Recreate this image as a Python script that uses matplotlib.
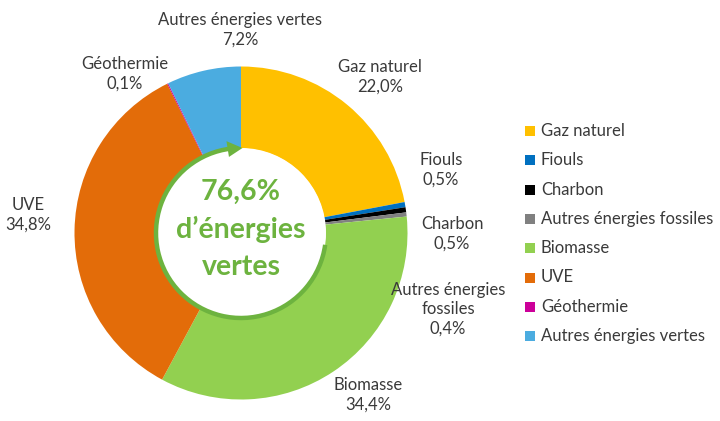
import numpy as np
import matplotlib
matplotlib.use('Agg')
import matplotlib.pyplot as plt
from matplotlib.patches import Arc, Polygon, Circle

plt.rcParams['font.family'] = ['Lato', 'DejaVu Sans']

categories = ['Gaz naturel', 'Fiouls', 'Charbon', 'Autres énergies fossiles',
              'Biomasse', 'UVE', 'Géothermie', 'Autres énergies vertes']
values = [22.0, 0.5, 0.5, 0.4, 34.4, 34.8, 0.1, 7.2]
value_labels = ['22,0%', '0,5%', '0,5%', '0,4%', '34,4%', '34,8%', '0,1%', '7,2%']
colors = ['#FFC000', '#0070C0', '#000000', '#808080',
          '#92D050', '#E36C09', '#CC0099', '#4BACE0']
green_total = '76,6%'

# label text blocks (pixel positions, top-left origin)
label_texts = ['Gaz naturel', 'Fiouls', 'Charbon', 'Autres énergies\nfossiles',
               'Biomasse', 'UVE', 'Géothermie', 'Autres énergies vertes']
label_pos = [(380, 77), (441, 170), (452, 234), (448, 309),
             (368, 395), (28, 215), (125, 74), (240, 30)]

H = 421
fig = plt.figure(figsize=(7.2, 4.21), dpi=100)
ax = fig.add_axes([0, 0, 1, 1])

cx, cy, R = 241, H - 233, 166.5
ax.pie(values, colors=colors, startangle=90, counterclock=False,
       center=(cx, cy), radius=R, frame=True,
       wedgeprops=dict(width=82, linewidth=0))
ax.set_xlim(0, 720)
ax.set_ylim(0, H)
ax.set_aspect('equal')
ax.axis('off')

# white centre with green circular arrow
r_ring = 85
ax.add_patch(Circle((cx, cy), r_ring, facecolor='white', edgecolor='none', zorder=3))
ax.add_patch(Arc((cx, cy), 2 * r_ring, 2 * r_ring, theta1=97, theta2=352,
                 color='#6DB33F', linewidth=3.2, zorder=4))
tip = np.deg2rad(89)
base = np.deg2rad(99)
pts = [(cx + r_ring * np.cos(tip), cy + r_ring * np.sin(tip)),
       (cx + (r_ring + 8) * np.cos(base), cy + (r_ring + 8) * np.sin(base)),
       (cx + (r_ring - 8) * np.cos(base), cy + (r_ring - 8) * np.sin(base))]
ax.add_patch(Polygon(pts, closed=True, facecolor='#6DB33F', edgecolor='none', zorder=5))

for txt, yy in [(green_total, 192), ('d\u2019énergies', 229), ('vertes', 267)]:
    ax.text(cx, H - yy, txt, ha='center', va='center', fontsize=20.5,
            fontweight='bold', color='#6DB33F', zorder=6)

# data labels
for txt, val, (px, py) in zip(label_texts, value_labels, label_pos):
    ax.text(px, H - py, txt + '\n' + val, ha='center', va='center',
            fontsize=12, color='#3A3A3A', linespacing=1.25)

# legend
for i, (name, col) in enumerate(zip(categories, colors)):
    y = H - (131 + i * 29.3)
    ax.add_patch(plt.Rectangle((525, y - 5), 10, 10, facecolor=col, edgecolor='none'))
    ax.text(541, y, name, ha='left', va='center', fontsize=12, color='#3A3A3A')

fig.savefig('out.png', dpi=100)
